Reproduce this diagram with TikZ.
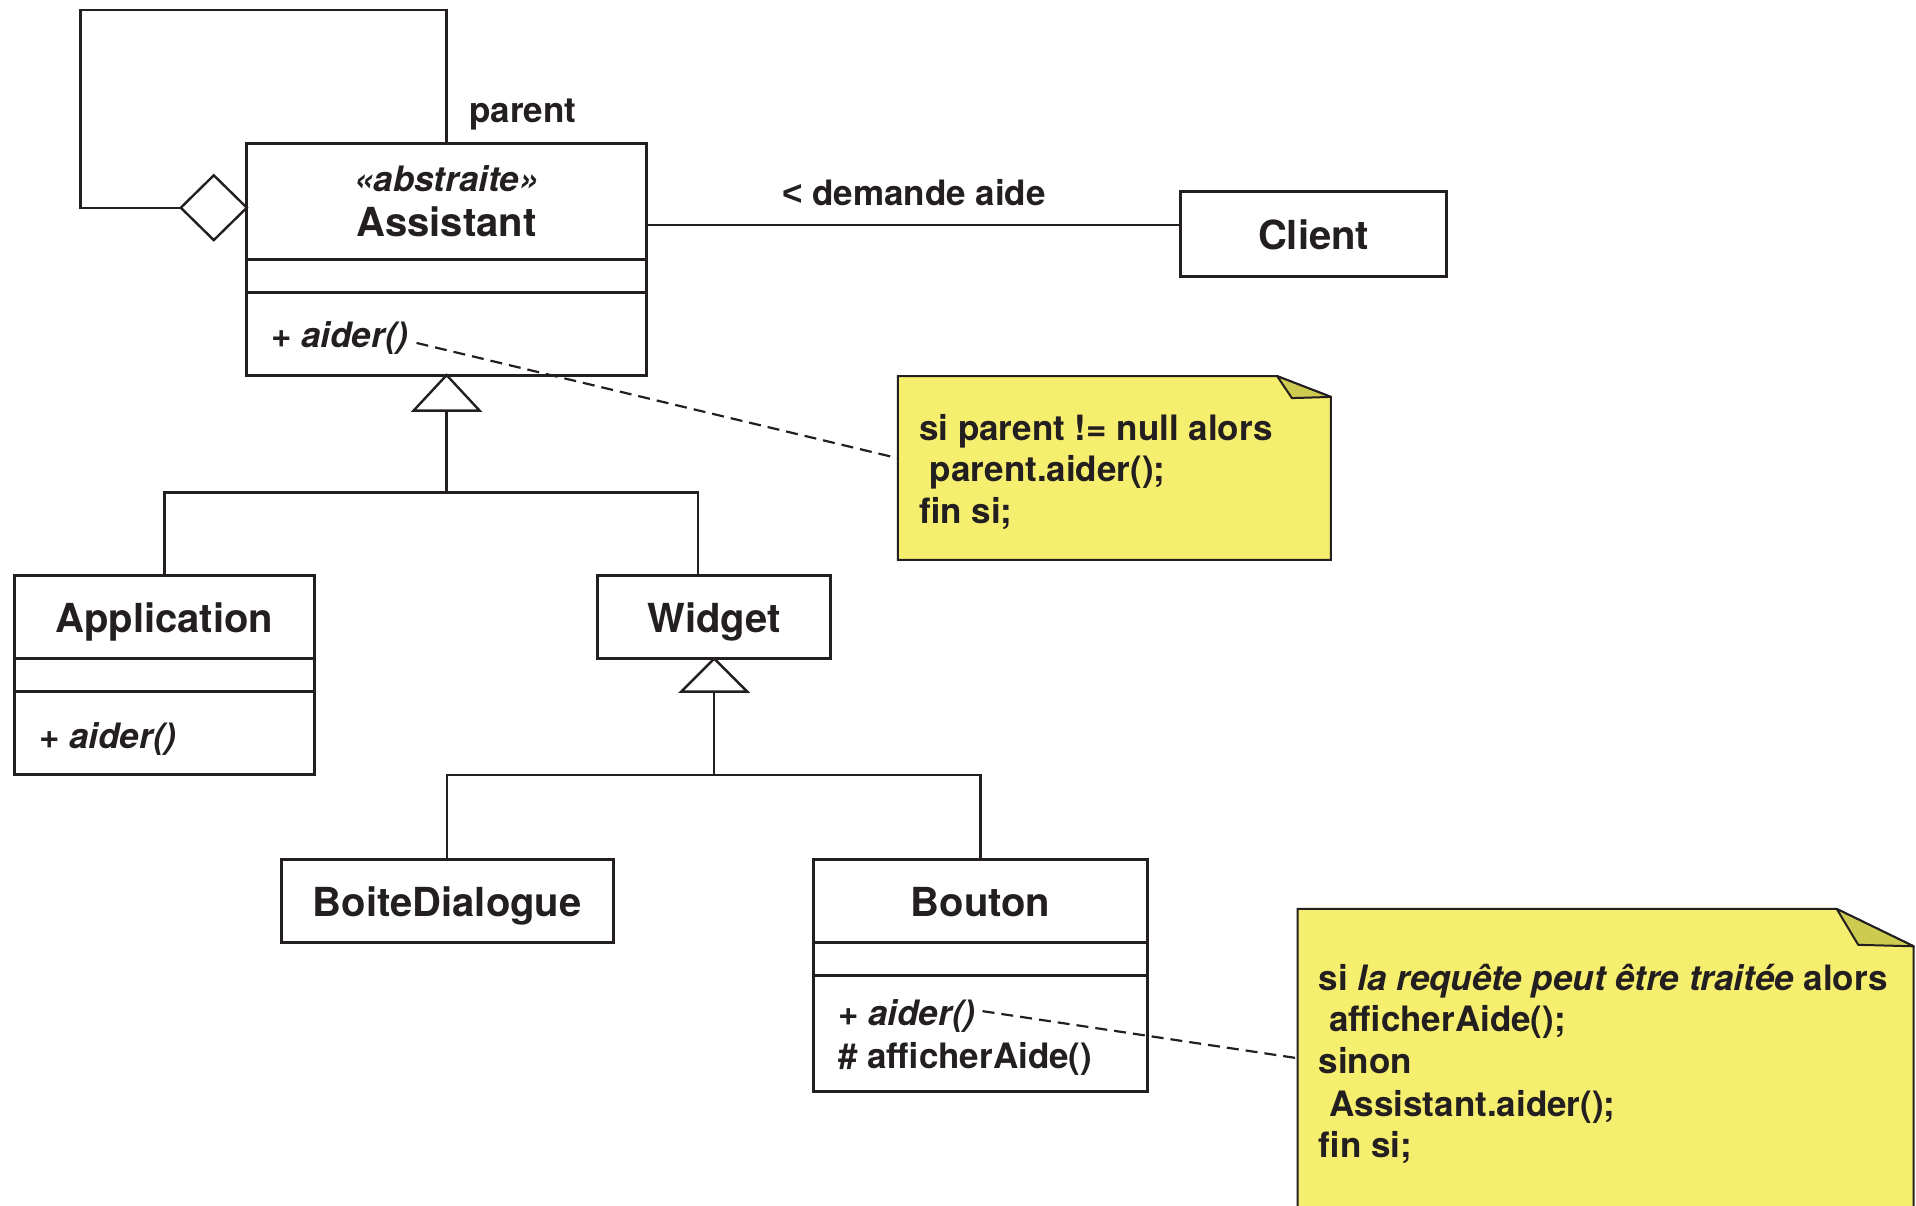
\documentclass[tikz,border=0pt]{standalone}
\usepackage{fontspec}
\setmainfont{TeX Gyre Heros}
\newfontfamily\lessfont{Liberation Sans}
\usetikzlibrary{calc}
\definecolor{ink}{HTML}{231F20}
\definecolor{notefill}{HTML}{F5EE6E}
\definecolor{foldfill}{HTML}{CDCB50}

\begin{document}
\begin{tikzpicture}[x=1pt,y=-1pt,
  box/.style={draw=ink, line width=3pt, inner sep=0pt, outer sep=0pt},
  conn/.style={draw=ink, line width=2.4pt, line join=miter},
  divider/.style={draw=ink, line width=3pt},
  namefont/.style={font=\fontsize{40}{48}\selectfont\bfseries, text=ink, inner sep=0pt},
  memberfont/.style={font=\fontsize{35}{42}\selectfont\bfseries, text=ink, inner sep=0pt},
  notetext/.style={font=\fontsize{35}{42}\selectfont\bfseries, text=ink, inner sep=0pt, anchor=base west},
  noteshape/.style={fill=notefill, draw=ink, line width=2pt, line join=miter},
  foldshape/.style={fill=foldfill, draw=ink, line width=2pt, line join=round},
  link/.style={draw=ink, line width=2.2pt, dash pattern=on 12pt off 7pt},
  hollow/.style={fill=white, draw=ink, line width=2.4pt, line join=miter}
]
\useasboundingbox (0,0) rectangle (1916,1205);
\clip (0,0) rectangle (1916,1205);

% ---------- class boxes ----------
\node[box, minimum width=399.6, minimum height=232.1] (assistant) at (446.6,259.05) {};
\draw[divider] ($(assistant.north west)+(0,116)$) -- ($(assistant.north east)+(0,116)$);
\draw[divider] ($(assistant.north west)+(0,149)$) -- ($(assistant.north east)+(0,149)$);
\node[memberfont, anchor=base] (stereo) at (446.6,191) {\itshape «abstraite»};
\node[namefont, anchor=base] (assistantname) at (446.6,236.8) {Assistant};
\node[memberfont, anchor=base west] (assistantop) at (271,347.4) {+ \itshape aider()};

\node[box, minimum width=266.3, minimum height=84.3] (client) at (1313.55,233.95) {};
\node[namefont, anchor=base] (clientname) at (client.center |- 0,249.2) {Client};

\node[box, minimum width=299.3, minimum height=199.2] (application) at (164.35,675.1) {};
\draw[divider] ($(application.north west)+(0,83.1)$) -- ($(application.north east)+(0,83.1)$);
\draw[divider] ($(application.north west)+(0,116.1)$) -- ($(application.north east)+(0,116.1)$);
\node[namefont, anchor=base] (applicationname) at (164.35,632.7) {Application};
\node[memberfont, anchor=base west] (applicationop) at (39,748.2) {+ \itshape aider()};

\node[box, minimum width=233.4, minimum height=83.1] (widget) at (714.2,617.05) {};
\node[namefont, anchor=base] (widgetname) at (714.2,632.7) {Widget};

\node[box, minimum width=332.4, minimum height=83.1] (boite) at (447.2,900.55) {};
\node[namefont, anchor=base] (boitename) at (447.2,916.2) {BoiteDialogue};

\node[box, minimum width=333.6, minimum height=232.2] (bouton) at (980.6,975.1) {};
\draw[divider] ($(bouton.north west)+(0,83.1)$) -- ($(bouton.north east)+(0,83.1)$);
\draw[divider] ($(bouton.north west)+(0,116.1)$) -- ($(bouton.north east)+(0,116.1)$);
\node[namefont, anchor=base] (boutonname) at (980.6,916.2) {Bouton};
\node[memberfont, anchor=base west] (boutonop) at (838,1025.6) {+ \itshape aider()};
\node[memberfont, anchor=base west] (boutonop2) at (838,1068.3) {\# afficherAide()};

% ---------- self aggregation "parent" ----------
\coordinate (aggr) at ($(assistant.north west)+(0,64.7)$);
\coordinate (loopcorner) at (80.6,9.8);
\draw[hollow] (aggr) -- ++(-33,-32.4) -- ++(-33,32.4) -- ++(33,32.4) -- cycle;
\draw[conn] ($(aggr)+(-66,0)$) -| (loopcorner) -| (assistant.north);
\node[memberfont, anchor=base west] (parentlbl) at (469,122.6) {parent};

% ---------- association with Client ----------
\coordinate (assocY) at (0,224.8);
\draw[conn] (assistant.east |- assocY) -- (client.west |- assocY);
\node[memberfont, anchor=base] (assoclbl) at (914,205.6) {{\lessfont <} demande aide};

% ---------- generalisation Application / Widget ----------
\draw[hollow] (assistant.south) -- ++(-33,35.5) -- ++(66,0) -- cycle;
\coordinate (gen1) at ($(assistant.south)+(0,35.5)$);
\coordinate (hub1) at ($(gen1)+(0,81.8)$);
\draw[conn] (gen1) -- (hub1);
\draw[conn] (application.north) |- (hub1) -| ([xshift=-16.5pt]widget.north);

% ---------- generalisation BoiteDialogue / Bouton ----------
\draw[hollow] (widget.south) -- ++(-33,33) -- ++(66,0) -- cycle;
\coordinate (gen2) at ($(widget.south)+(0,33)$);
\coordinate (hub2) at ($(gen2)+(0,83.1)$);
\draw[conn] (gen2) -- (hub2);
\draw[conn] (boite.north) |- (hub2) -| (bouton.north);

% ---------- note on Assistant.aider() ----------
\node[inner sep=0pt, minimum width=432.6, minimum height=183.3] (note1) at (1114.4,467.95) {};
\draw[noteshape] (note1.north west) -- ($(note1.north east)+(-53.8,0)$)
  -- ($(note1.north east)+(0,20.8)$) -- (note1.south east) -- (note1.south west) -- cycle;
\draw[foldshape] ($(note1.north east)+(-53.8,0)$) -- ($(note1.north east)+(-39,22)$)
  -- ($(note1.north east)+(0,20.8)$) -- cycle;
\node[notetext] (n1a) at (918.9,440.3) {si parent != null alors};
\node[notetext] (n1b) at (929.7,481.8) {parent.aider();};
\node[notetext] (n1c) at (918.9,523.4) {fin si;};
\draw[link] ([xshift=8pt,yshift=-5pt]assistantop.east) -- ([yshift=9.75pt]note1.west);

% ---------- note on Bouton.aider() ----------
\node[inner sep=0pt, minimum width=615.8, minimum height=350.9] (note2) at (1605.6,1084.55) {};
\draw[noteshape] (note2.north west) -- ($(note2.north east)+(-77,0)$)
  -- ($(note2.north east)+(0,37.4)$) -- (note2.south east) -- (note2.south west) -- cycle;
\draw[foldshape] ($(note2.north east)+(-77,0)$) -- ($(note2.north east)+(-55.5,35.9)$)
  -- ($(note2.north east)+(0,37.4)$) -- cycle;
\node[notetext] (n2a) at (1318.4,990) {si \itshape la requête peut être traitée \upshape alors};
\node[notetext] (n2b) at (1329.2,1031.7) {afficherAide();};
\node[notetext] (n2c) at (1318.4,1073.2) {sinon};
\node[notetext] (n2d) at (1329.2,1116) {Assistant.aider();};
\node[notetext] (n2e) at (1318.4,1157.5) {fin si;};
\draw[link] ([xshift=7pt,yshift=5pt]boutonop.east) -- ([yshift=26.35pt]note2.west);
\end{tikzpicture}
\end{document}
